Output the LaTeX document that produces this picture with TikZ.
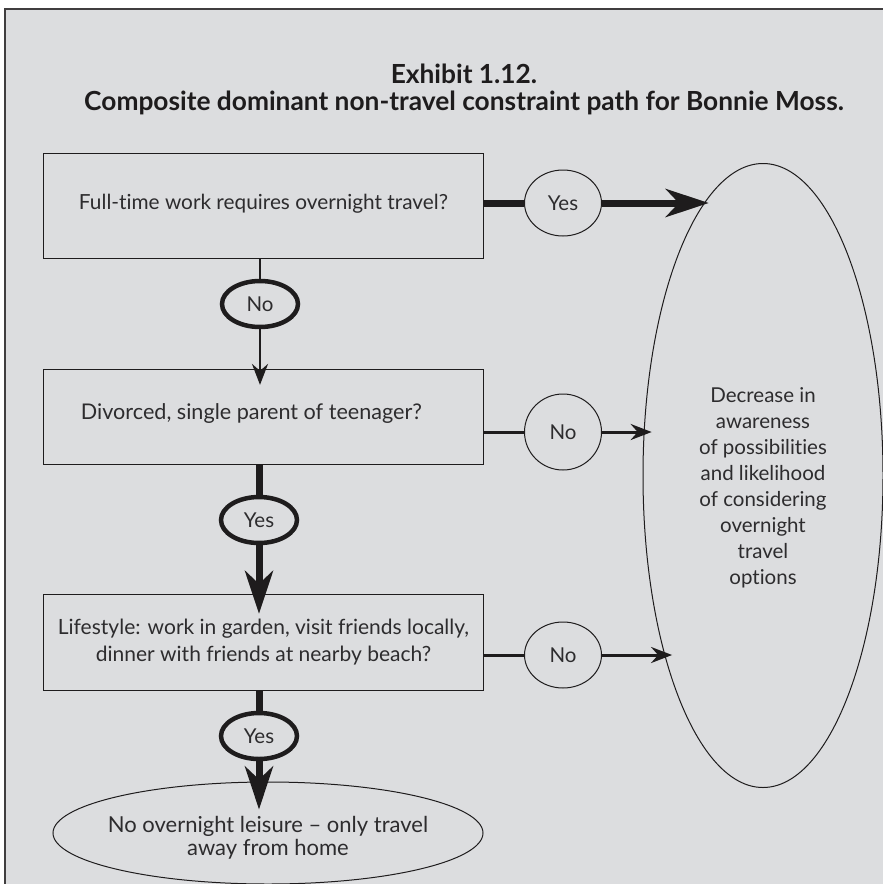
\documentclass[tikz,border=0pt]{standalone}
\usepackage{fontspec}
\setmainfont[Ligatures=NoCommon]{Lato}
\usetikzlibrary{arrows.meta,shapes.geometric}
\definecolor{panel}{RGB}{220,221,223}
\definecolor{ink}{RGB}{30,28,29}
\definecolor{txt}{RGB}{45,44,46}
% a centred stack of lines, moved vertically by #1 without changing the node size
\newcommand{\stacklines}[2]{\raisebox{#1}[0pt][0pt]{\begin{tabular}{@{}c@{}}#2\end{tabular}}}
\begin{document}
\begin{tikzpicture}[x=1pt,y=-1pt,
  every node/.style={text=txt,font=\fontsize{20.5}{27}\selectfont},
  qbox/.style={rectangle,draw=ink,line width=1.2pt,minimum width=440pt,align=center,inner sep=0pt},
  heavyans/.style={ellipse,draw=ink,line width=4.5pt,minimum width=76pt,minimum height=46pt,inner sep=0pt},
  lightans/.style={ellipse,draw=ink,line width=1pt,minimum width=77pt,inner sep=0pt},
  outcome/.style={ellipse,draw=ink,line width=1pt,inner sep=0pt},
  thinlink/.style={draw=ink,line width=2.5pt},
  midlink/.style={draw=ink,line width=3pt},
  heavylink/.style={draw=ink,line width=7pt},
  bigtip/.style={-{Stealth[length=43pt,width=28pt,inset=13pt]}},
  smalltip/.style={-{Stealth[length=21pt,width=16pt,inset=7pt]}},
  heading/.style={font=\fontsize{26.3}{27}\selectfont\bfseries,text=ink,anchor=base}
]
\useasboundingbox (0,0) rectangle (883,884);
\clip (0,0) rectangle (883,884);

% panel and its frame
\fill[panel] (5,9) rectangle (900,900);
\draw[ink!85,line width=1.5pt] (900,9) -- (5,9) -- (5,900);

% heading
\node[heading] (t1) at (464,83) {Exhibit 1.12.};
\node[heading] (t2) at (464,110) {Composite dominant non-travel constraint path for Bonnie Moss.};

% question boxes
\node[qbox,minimum height=105pt,font=\fontsize{20.8}{27}\selectfont] (q1) at (263.5,206)
  {\stacklines{-3pt}{Full-time work requires overnight travel?}};
\node[qbox,minimum height=95pt,font=\fontsize{21.6}{27}\selectfont] (q2) at (263.5,417)
  {\stacklines{-2pt}{Divorced, single parent of teenager?}\hspace*{24pt}};
\node[qbox,minimum height=96pt,font=\fontsize{21}{27}\selectfont] (q3) at (263.5,642.5)
  {Lifestyle: work in garden, visit friends locally,\\dinner with friends at nearby beach?};

% answers along the main path
\node[heavyans] (a1) at (260,304) {No};
\node[heavyans] (a2) at (259,520) {Yes};
\node[heavyans] (a3) at (259,736) {Yes};

% answers leading to the right
\node[lightans,minimum height=66pt] (r1) at (563,203) {Yes};
\node[lightans,minimum height=76pt] (r2) at (563,432) {No};
\node[lightans,minimum height=66pt] (r3) at (563,655) {No};

% outcomes
\node[outcome,minimum width=240pt,minimum height=624pt,font=\fontsize{20.5}{26}\selectfont] (big) at (763,475.5)
  {\stacklines{-18pt}{Decrease in\\awareness\\of possibilities\\and likelihood\\of considering\\overnight\\travel\\options}};
\node[outcome,minimum width=430pt,minimum height=102pt,inner xsep=-20pt,font=\fontsize{22}{22}\selectfont] (fin) at (268,833)
  {\stacklines{-11.5pt}{No overnight leisure -- only travel\\away from home}};

% main path
\draw[thinlink] (q1.south -| a1) -- (a1.north);
\draw[thinlink,smalltip,shorten >=-16pt] (a1.south) -- (a1.south |- q2.north);
\draw[heavylink] (q2.south -| a2) -- (a2.north);
\draw[heavylink,bigtip,shorten >=-20pt] (a2.south) -- (a2.south |- q3.north);
\draw[heavylink] (q3.south -| a3) -- (a3.north);
\draw[heavylink,bigtip,shorten >=-28pt] (a3.south) -- (a3.south |- fin.north);

% branches to the right
\draw[heavylink] (q1.east |- r1.west) -- (r1.west);
\draw[heavylink,bigtip,shorten >=-4pt] (r1.east) -- (r1.east -| big.102.2);
\draw[midlink] (q2.east |- r2.west) -- (r2.west);
\draw[midlink,smalltip,shorten >=-8pt] (r2.east) -- (r2.east -| big.160);
\draw[midlink] (q3.east |- r3.west) -- (r3.west);
\draw[midlink,smalltip,shorten >=-8pt] (r3.east) -- (r3.east -| big.241.5);
\end{tikzpicture}
\end{document}
